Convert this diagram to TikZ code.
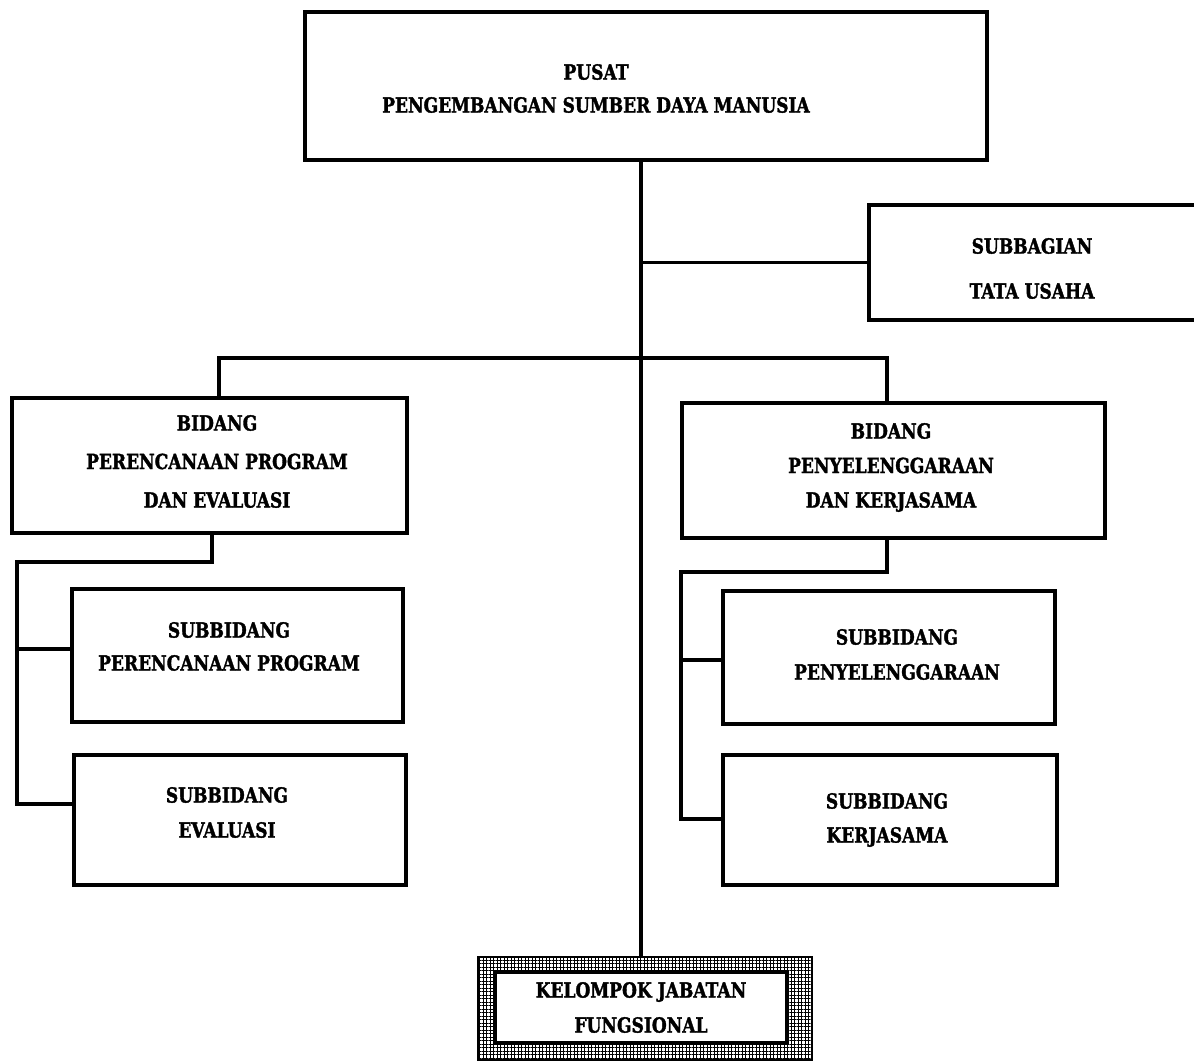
\documentclass[tikz,border=0pt]{standalone}
\usepackage{fontspec}
\setmainfont{DejaVu Serif}[FakeStretch=0.82, BoldFeatures={FakeBold=1.6}]
\usetikzlibrary{patterns.meta}
\begin{document}
\begin{tikzpicture}[x=1pt,y=-1pt,
  box/.style={draw, line width=4.2pt, inner sep=0pt},
  conn/.style={line width=3.6pt, line cap=rect},
  lbl/.style={align=center, inner sep=0pt, font=\bfseries\fontsize{20.8}{#1}\selectfont},
  lbl/.default=34]
  % page
  \fill[white] (0,0) rectangle (1194,1062);
  \useasboundingbox (0,0) rectangle (1194,1062);

  % boxes
  \node[box, minimum width=682pt, minimum height=148pt] (top) at (646,86) {};
  \node[minimum width=326pt, minimum height=115pt, inner sep=0pt] (tu) at (1032,262.5) {};
  \draw[line width=4.2pt] (tu.north east) -- (tu.north west) -- (tu.south west) -- (tu.south east);
  \node[box, minimum width=395pt, minimum height=135pt] (bL) at (209.5,465.5) {};
  \node[box, minimum width=423pt, minimum height=135pt] (bR) at (893.5,470.5) {};
  \node[box, minimum width=331pt, minimum height=133pt] (sL1) at (237.5,655.5) {};
  \node[box, minimum width=332pt, minimum height=130pt] (sL2) at (240,820) {};
  \node[box, minimum width=332pt, minimum height=133pt] (sR1) at (889,657.5) {};
  \node[box, minimum width=334pt, minimum height=130pt] (sR2) at (890,820) {};
  \node[draw, line width=1.5pt, inner sep=0pt, minimum width=334pt, minimum height=103pt,
        pattern={Hatch[angle=0, distance=3.5pt, line width=1pt]}] (kjfo) at (645,1008.5) {};
  \node[box, fill=white, line width=3.4pt, minimum width=292pt, minimum height=71pt] (kjfi) at (641,1007.5) {};

  % labels
  \node[lbl=33] (topt) at (596,88.5) {PUSAT\\PENGEMBANGAN SUMBER DAYA MANUSIA};
  \node[lbl=45] (tut) at (1032,268.5) {SUBBAGIAN\\TATA USAHA};
  \node[lbl=38.5] (bLt) at (217,461.5) {BIDANG\\PERENCANAAN PROGRAM\\DAN EVALUASI};
  \node[lbl=34.5] (bRt) at (891,467.5) {BIDANG\\PENYELENGGARAAN\\DAN KERJASAMA};
  \node[lbl=33] (sL1t) at (229,646.5) {SUBBIDANG\\PERENCANAAN PROGRAM};
  \node[lbl=35] (sL2t) at (227,812.5) {SUBBIDANG\\EVALUASI};
  \node[lbl=35] (sR1t) at (897,654.5) {SUBBIDANG\\PENYELENGGARAAN};
  \node[lbl=34] (sR2t) at (887,820) {SUBBIDANG\\KERJASAMA};
  \node[lbl=35] (kjft) at (641,1007.5) {KELOMPOK JABATAN\\FUNGSIONAL};

  % spine and branches
  \coordinate (sp) at (641,0);
  \draw[conn] (top.south -| sp) -- (kjfo.north -| sp);
  \draw[conn] (sp |- tu.west) -- (tu.west);
  \coordinate (busL) at (219,358);
  \coordinate (busR) at (887,358);
  \draw[conn] (bL.north -| busL) -- (busL) -- (busR) -- (bR.north -| busR);

  % left group
  \coordinate (lj) at (212,562);
  \coordinate (lt) at (17,562);
  \coordinate (lb1) at (17,649);
  \coordinate (lb2) at (17,804);
  \draw[conn] (bL.south -| lj) -- (lj) -- (lt) -- (lb2);
  \draw[conn] (lb1) -- (lb1 -| sL1.west);
  \draw[conn] (lb2) -- (lb2 -| sL2.west);

  % right group
  \coordinate (rj) at (887,572);
  \coordinate (rt) at (681,572);
  \coordinate (rb1) at (681,660);
  \coordinate (rb2) at (681,819);
  \draw[conn] (bR.south -| rj) -- (rj) -- (rt) -- (rb2);
  \draw[conn] (rb1) -- (rb1 -| sR1.west);
  \draw[conn] (rb2) -- (rb2 -| sR2.west);
\end{tikzpicture}
\end{document}
